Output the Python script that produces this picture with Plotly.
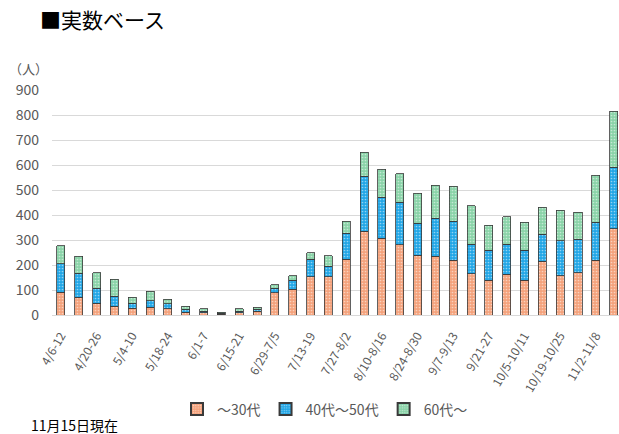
import plotly.graph_objects as go

weeks = ["4/6-12", "4/13-19", "4/20-26", "4/27-5/3", "5/4-10", "5/11-17", "5/18-24", "5/25-31",
         "6/1-7", "6/8-14", "6/15-21", "6/22-28", "6/29-7/5", "7/6-12", "7/13-19", "7/20-26",
         "7/27-8/2", "8/3-8/9", "8/10-8/16", "8/17-8/23", "8/24-8/30", "8/31-9/6", "9/7-9/13", "9/14-9/20",
         "9/21-27", "9/28-10/4", "10/5-10/11", "10/12-10/18", "10/19-10/25", "10/26-11/1", "11/2-11/8", "11/9-11/15"]

under30 = [91, 71, 47, 36, 27, 32, 25, 11, 10, 4, 10, 15, 89, 103, 153, 153,
           224, 336, 307, 281, 239, 236, 220, 165, 140, 164, 140, 216, 157, 169, 219, 345]
age40_50 = [114, 96, 61, 40, 20, 25, 20, 12, 6, 3, 6, 8, 19, 37, 71, 43,
            104, 219, 165, 171, 128, 151, 155, 118, 120, 119, 119, 108, 140, 134, 153, 246]
over60 = [72, 69, 61, 67, 25, 39, 19, 13, 9, 4, 9, 9, 13, 17, 25, 41,
          47, 97, 112, 113, 121, 132, 140, 154, 100, 110, 112, 108, 123, 108, 188, 225]

series_names = ["〜30代", "40代〜50代", "60代〜"]
series_colors = ["#F4A27C", "#22A6E6", "#8AD3A8"]

tick_labels = weeks[::2]
y_ticks = [0, 100, 200, 300, 400, 500, 600, 700, 800, 900]

font_family = "Noto Sans CJK JP, Noto Sans, sans-serif"

fig = go.Figure()
for name, vals, col in zip(series_names, [under30, age40_50, over60], series_colors):
    fig.add_trace(go.Bar(
        x=weeks, y=vals, name=name,
        marker=dict(color=col, line=dict(color="#3a3a3a", width=0.8),
                    pattern=dict(shape=".", size=3, solidity=0.25, fgcolor="#ffffff", fgopacity=0.5)),
    ))

fig.update_layout(
    width=619, height=434,
    barmode="stack", bargap=0.55,
    plot_bgcolor="white", paper_bgcolor="white",
    margin=dict(l=52, r=0, t=90, b=119, autoexpand=False),
    font=dict(family=font_family, color="#595959", size=13),
    title=dict(text="■実数ベース", x=40/619, xref="container", xanchor="left",
               y=1-21/434, yref="container", yanchor="middle",
               font=dict(size=21, color="#000000", family=font_family)),
    showlegend=True,
    legend=dict(orientation="h", traceorder="normal", x=(325-52)/567, xanchor="center",
                y=-0.42, yanchor="middle", font=dict(size=14, color="#595959"),
                itemwidth=30, itemsizing="constant"),
    xaxis=dict(type="category", range=[-0.5, 31.3], tickmode="array",
               tickvals=tick_labels, ticktext=tick_labels, tickangle=-60,
               tickfont=dict(size=12, color="#595959"), showgrid=False, automargin=False,
               showline=True, linecolor="#d9d9d9", linewidth=1, ticks="",
               ticklabelstandoff=8),
    yaxis=dict(range=[0, 900], tickmode="array", tickvals=y_ticks, automargin=False,
               tickfont=dict(size=14, color="#595959"), showgrid=True,
               gridcolor="#d9d9d9", gridwidth=1, zeroline=False, ticklabelstandoff=12),
    annotations=[
        dict(text="（人）", xref="paper", yref="paper", x=(28-52)/567, y=(315-68)/225,
             xanchor="center", yanchor="middle", showarrow=False,
             font=dict(size=13, color="#595959")),
        dict(text="11月15日現在", xref="paper", yref="paper", x=(29-52)/567, y=(315-425)/225,
             xanchor="left", yanchor="middle", showarrow=False,
             font=dict(size=14, color="#000000")),
    ],
)

fig.write_html("out.html", config={"displayModeBar": False},
               post_script="document.body.style.margin='0px';document.body.style.overflow='hidden';")
